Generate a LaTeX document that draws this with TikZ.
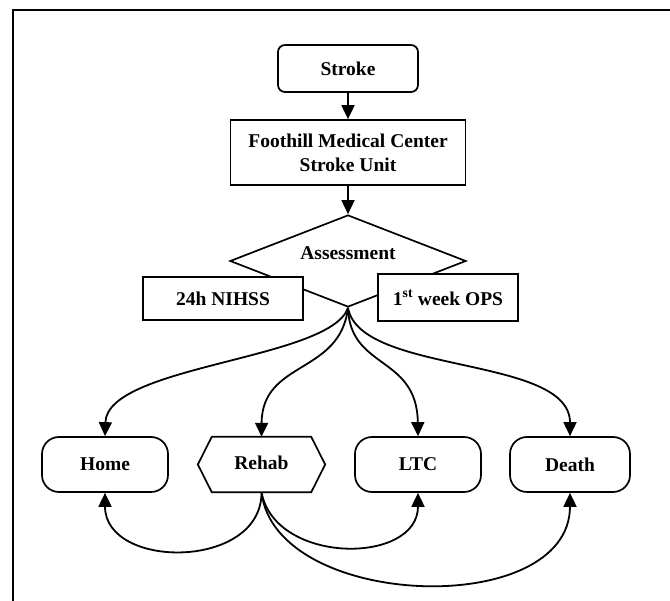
\documentclass[tikz,border=0pt]{standalone}
\usepackage{fontspec}
\setmainfont{Liberation Serif}
\usetikzlibrary{arrows.meta,shapes.geometric}
\begin{document}
\begin{tikzpicture}[x=1pt,y=-1pt,
  font=\fontsize{19.5}{24}\selectfont\bfseries,
  every node/.style={inner sep=0pt},
  box/.style={draw, line width=1.7pt, fill=white, align=center},
  endbox/.style={box, rounded corners=17pt, minimum width=126pt, minimum height=55pt},
  conn/.style={line width=1.8pt, -{Triangle[length=14pt,width=13pt]}},
]
\useasboundingbox (0,0) rectangle (670,601);
\draw[line width=2pt] (13,601) -- (13,10) -- (670,10);

\node[box, rounded corners=7pt, minimum width=140pt, minimum height=47pt] (stroke) at (348,68.5) {Stroke};
\node[box, minimum width=235pt, minimum height=65pt] (unit) at (348,152.5) {Foothill Medical Center\\Stroke Unit};
\node[draw, diamond, line width=1.7pt, minimum width=236pt, minimum height=92pt] (assess) at (348,261) {};
\node (assesstext) at (348,253) {Assessment};
\node[box, minimum width=160pt, minimum height=43pt] (nihss) at (223,298.5) {24h NIHSS};
\node[box, minimum width=140pt, minimum height=47pt] (ops) at (448,297.5) {1\textsuperscript{st} week OPS};

\node[endbox] (home) at (105,464.5) {Home};
\node[minimum width=127pt, minimum height=55pt] (rehab) at (261.5,464.5) {\raisebox{4pt}{Rehab}};
\draw[line width=1.7pt] ([xshift=14pt]rehab.north west) -- ([xshift=-14pt]rehab.north east) -- (rehab.east) -- ([xshift=-14pt]rehab.south east) -- ([xshift=14pt]rehab.south west) -- (rehab.west) -- cycle;
\node[endbox] (ltc) at (418,464.5) {LTC};
\node[endbox, minimum width=120pt] (death) at (570,464.5) {Death};

\draw[conn] (stroke.south) -- (unit.north);
\draw[conn] (unit.south) -- (assess.north);

\draw[conn] (assess.south) .. controls (330,360) and (107,365) .. (home.north);
\draw[conn] (assess.south) .. controls (340,375) and (262,360) .. (rehab.north);
\draw[conn] (assess.south) .. controls (350,370) and (417,355) .. (ltc.north);
\draw[conn] (assess.south) .. controls (360,375) and (570,355) .. (death.north);

\draw[conn] (rehab.south) .. controls (262,570) and (105,570) .. (home.south);
\draw[conn] (rehab.south) .. controls (275,565) and (418,565) .. (ltc.south);
\draw[conn] (rehab.south) .. controls (275,610) and (570,620) .. (death.south);
\end{tikzpicture}
\end{document}
